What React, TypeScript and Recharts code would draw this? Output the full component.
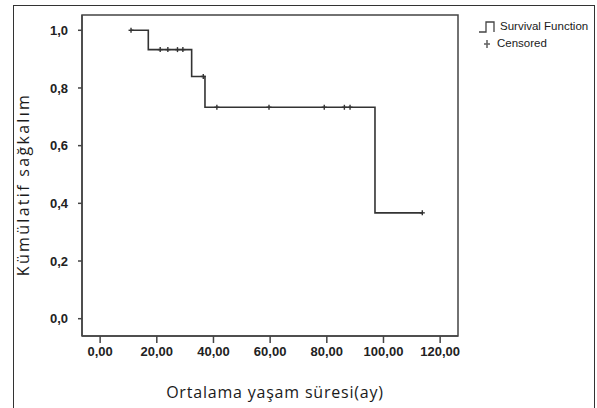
import React from 'react';
import {
  ComposedChart,
  Line,
  Scatter,
  XAxis,
  YAxis,
  ReferenceArea,
  Label,
} from 'recharts';

// Kaplan-Meier steps (time in months, cumulative survival)
const stepTimes = [10.9, 17.0, 32.3, 37.0, 97.0, 113.7];
const stepSurvival = [1.0, 0.933, 0.84, 0.733, 0.367, 0.367];

// censored observations
const censoredTimes = [10.9, 21.2, 23.9, 27.3, 29.2, 36.4, 41.2, 59.6, 79.1, 86.2, 88.2, 113.7];
const censoredSurvival = [1.0, 0.933, 0.933, 0.933, 0.933, 0.84, 0.733, 0.733, 0.733, 0.733, 0.733, 0.367];

const xTicks = [0, 20, 40, 60, 80, 100, 120];
const yTicks = [0, 0.2, 0.4, 0.6, 0.8, 1.0];

const xDomain: [number, number] = [-6.4, 126.3];
const yDomain: [number, number] = [-0.06, 1.053];

const stepData = stepTimes.map((t, i) => ({ t, s: stepSurvival[i] }));
const censoredData = censoredTimes.map((t, i) => ({ t, s: censoredSurvival[i] }));

const ink = '#333';

const PlusMark = (props: any) => {
  const { cx, cy } = props;
  return (
    <g stroke={ink} strokeWidth={1.4}>
      <line x1={cx - 2.5} y1={cy} x2={cx + 2.5} y2={cy} />
      <line x1={cx} y1={cy - 2.5} x2={cx} y2={cy + 2.5} />
    </g>
  );
};

const LegendBox = () => (
  <div
    style={{
      position: 'absolute',
      left: 477,
      top: 18,
      fontFamily: 'Liberation Sans, Arial, sans-serif',
      fontSize: 11.5,
      color: '#1a1a1a',
      lineHeight: '17px',
    }}
  >
    <div style={{ display: 'flex', alignItems: 'center' }}>
      <svg width={20} height={14}>
        <polyline points="2,12 9,12 9,2 17,2 17,12" fill="none" stroke="#444" strokeWidth={1.3} />
      </svg>
      <span style={{ marginLeft: 3 }}>Survival Function</span>
    </div>
    <div style={{ display: 'flex', alignItems: 'center' }}>
      <svg width={20} height={14}>
        <g stroke="#666" strokeWidth={1.6}>
          <line x1={7} y1={7} x2={13} y2={7} />
          <line x1={10} y1={3} x2={10} y2={11} />
        </g>
      </svg>
      <span>Censored</span>
    </div>
  </div>
);

const tickStyle = { fill: '#222', fontSize: 13, fontWeight: 700, fontFamily: 'Liberation Sans, Arial, sans-serif' };
const titleFont = 'Open Sans, sans-serif';

export default function App() {
  return (
    <div style={{ position: 'absolute', left: 0, top: 0, width: 597, height: 408, background: '#fff', overflow: 'hidden' }}>
      <div
        style={{
          position: 'absolute',
          left: 13,
          top: 5,
          width: 580,
          height: 420,
          border: '1.5px solid #333',
        }}
      />
      <div style={{ position: 'absolute', left: 0, top: 0 }}>
        <ComposedChart width={597} height={408} margin={{ top: 15, right: 139, left: 0, bottom: 0 }}>
          <XAxis
            type="number"
            dataKey="t"
            domain={xDomain}
            ticks={xTicks}
            interval={0}
            allowDataOverflow
            height={72}
            stroke="#444"
            strokeWidth={1.5}
            tickSize={7}
            tickMargin={4}
            tick={tickStyle}
            tickFormatter={(v: number) => v.toFixed(2).replace('.', ',')}
          >
            <Label
              content={({ viewBox }: any) => (
                <text
                  x={viewBox.x + viewBox.width / 2 + 5}
                  y={viewBox.y + 62}
                  textAnchor="middle"
                  fontFamily={titleFont}
                  fontSize={16}
                  letterSpacing={0.8}
                  fill="#1a1a1a"
                >
                  Ortalama yaşam süresi(ay)
                </text>
              )}
            />
          </XAxis>
          <YAxis
            type="number"
            dataKey="s"
            domain={yDomain}
            ticks={yTicks}
            interval={0}
            allowDataOverflow
            width={82}
            stroke="#444"
            strokeWidth={1.5}
            tickSize={4}
            tickMargin={10}
            tick={tickStyle}
            tickFormatter={(v: number) => v.toFixed(1).replace('.', ',')}
          >
            <Label
              content={({ viewBox }: any) => {
                const x = 23;
                const y = viewBox.y + viewBox.height / 2 + 9;
                return (
                  <text
                    x={x}
                    y={y}
                    transform={`rotate(-90 ${x} ${y})`}
                    textAnchor="middle"
                    dominantBaseline="central"
                    fontFamily={titleFont}
                    fontSize={16}
                    letterSpacing={2.3}
                    fill="#1a1a1a"
                  >
                    Kümülatif sağkalım
                  </text>
                );
              }}
            />
          </YAxis>
          <ReferenceArea
            x1={xDomain[0]}
            x2={xDomain[1]}
            y1={yDomain[0]}
            y2={yDomain[1]}
            fill="none"
            stroke="#444"
            strokeWidth={1.5}
            ifOverflow="extendDomain"
          />
          <Line
            data={stepData}
            dataKey="s"
            type="stepAfter"
            stroke={ink}
            strokeWidth={1.6}
            dot={false}
            isAnimationActive={false}
            legendType="none"
          />
          <Scatter
            data={censoredData}
            dataKey="s"
            shape={<PlusMark />}
            isAnimationActive={false}
          />
        </ComposedChart>
      </div>
      <LegendBox />
    </div>
  );
}
